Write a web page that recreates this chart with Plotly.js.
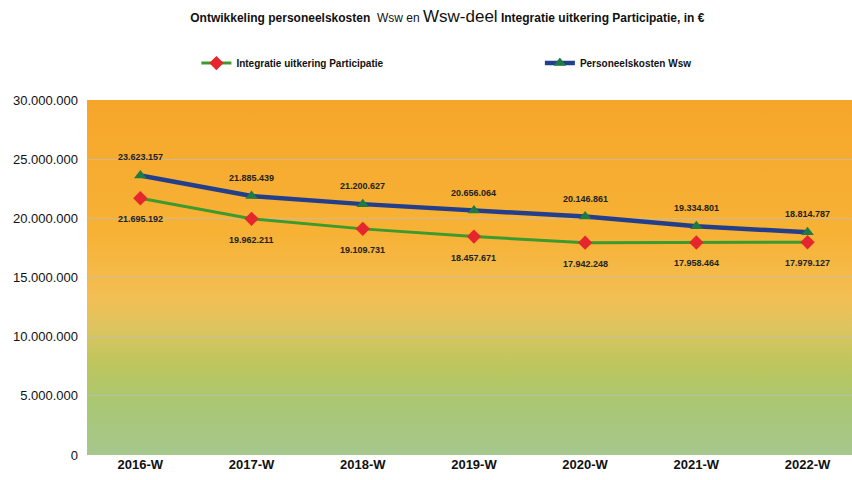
<!DOCTYPE html>
<html>
<head>
<meta charset="utf-8">
<script src="https://cdn.plot.ly/plotly-3.0.1.min.js"></script>
<style>
html,body{margin:0;padding:0;background:#fff;}
#chart{width:852px;height:480px;}
</style>
</head>
<body>
<div id="chart"></div>
<script>
const categories = ["2016-W","2017-W","2018-W","2019-W","2020-W","2021-W","2022-W"];
const integratie = [21695192,19962211,19109731,18457671,17942248,17958464,17979127];
const personeel = [23623157,21885439,21200627,20656064,20146861,19334801,18814787];
const integratieLabels = ["21.695.192","19.962.211","19.109.731","18.457.671","17.942.248","17.958.464","17.979.127"];
const personeelLabels = ["23.623.157","21.885.439","21.200.627","20.656.064","20.146.861","19.334.801","18.814.787"];
const yTickVals = [0,5000000,10000000,15000000,20000000,25000000,30000000];
const yTickText = ["0","5.000.000","10.000.000","15.000.000","20.000.000","25.000.000","30.000.000"];

const sans = '"Liberation Sans", Arial, sans-serif';

const svgBg = '<svg xmlns="http://www.w3.org/2000/svg" width="100" height="100" preserveAspectRatio="none">' +
  '<defs><linearGradient id="g" x1="0" y1="0" x2="0" y2="1">' +
  '<stop offset="0" stop-color="#F5A62A"/>' +
  '<stop offset="0.38" stop-color="#F7B236"/>' +
  '<stop offset="0.55" stop-color="#F3BE52"/>' +
  '<stop offset="0.64" stop-color="#DEC460"/>' +
  '<stop offset="0.74" stop-color="#BEC65C"/>' +
  '<stop offset="0.86" stop-color="#A9C774"/>' +
  '<stop offset="1" stop-color="#A6C78E"/>' +
  '</linearGradient></defs><rect width="100" height="100" fill="url(#g)"/></svg>';
const bgSrc = 'data:image/svg+xml;base64,' + btoa(svgBg);

const traces = [
  {
    x: categories, y: integratie, name: "Integratie uitkering Participatie",
    type: "scatter", mode: "lines+markers", legend: "legend",
    line: {color: "#3C9A2E", width: 3},
    marker: {symbol: "diamond", size: 11, color: "#E5262E"}
  },
  {
    x: categories, y: personeel, name: "Personeelskosten Wsw",
    type: "scatter", mode: "lines+markers", legend: "legend2",
    line: {color: "#233F8C", width: 4.5},
    marker: {symbol: "triangle-up", size: 11, color: "#1E7A46"}
  }
];

const annotations = [];
categories.forEach((c, i) => {
  annotations.push({x: c, y: personeel[i], text: personeelLabels[i], showarrow: false,
    yshift: 18, font: {family: sans, size: 9, color: "#222", weight: 700}});
  annotations.push({x: c, y: integratie[i], text: integratieLabels[i], showarrow: false,
    yshift: -21, font: {family: sans, size: 9, color: "#222", weight: 700}});
});

const legendBase = {
  orientation: "h", xanchor: "left", y: 1.104, yanchor: "middle",
  itemwidth: 30, font: {family: sans, size: 10, color: "#111", weight: 700},
  bgcolor: "rgba(0,0,0,0)"
};

const layout = {
  width: 852, height: 480,
  margin: {l: 87, r: 0, t: 100, b: 25},
  paper_bgcolor: "#ffffff",
  plot_bgcolor: "rgba(0,0,0,0)",
  title: {
    text: '<b>Ontwikkeling personeelskosten</b>  Wsw en <span style="font-size:17px">Wsw-deel</span> <b>Integratie uitkering Participatie, in €</b>',
    font: {family: sans, size: 12, color: "#111"},
    x: 0.525, xanchor: "center", xref: "container",
    y: 0.9625, yanchor: "middle", yref: "container"
  },
  showlegend: true,
  legend: Object.assign({}, legendBase, {x: 0.143}),
  legend2: Object.assign({}, legendBase, {x: 0.592}),
  xaxis: {
    type: "category", range: [-0.48, 6.4],
    showgrid: false, zeroline: false, showline: false, ticks: "",
    tickfont: {family: sans, size: 13, color: "#111", weight: 700},
    fixedrange: true
  },
  yaxis: {
    range: [0, 30000000], tickvals: yTickVals, ticktext: yTickText,
    showgrid: true, gridcolor: "rgba(190,190,190,0.7)", gridwidth: 1,
    zeroline: false, showline: false, ticks: "", ticklabelstandoff: 8,
    tickfont: {family: sans, size: 13, color: "#111"},
    fixedrange: true
  },
  images: [{
    source: bgSrc, xref: "paper", yref: "paper", x: 0, y: 1, sizex: 1, sizey: 1,
    sizing: "stretch", xanchor: "left", yanchor: "top", layer: "below"
  }],
  annotations: annotations
};

Plotly.newPlot("chart", traces, layout, {displayModeBar: false, staticPlot: true});
</script>
</body>
</html>
